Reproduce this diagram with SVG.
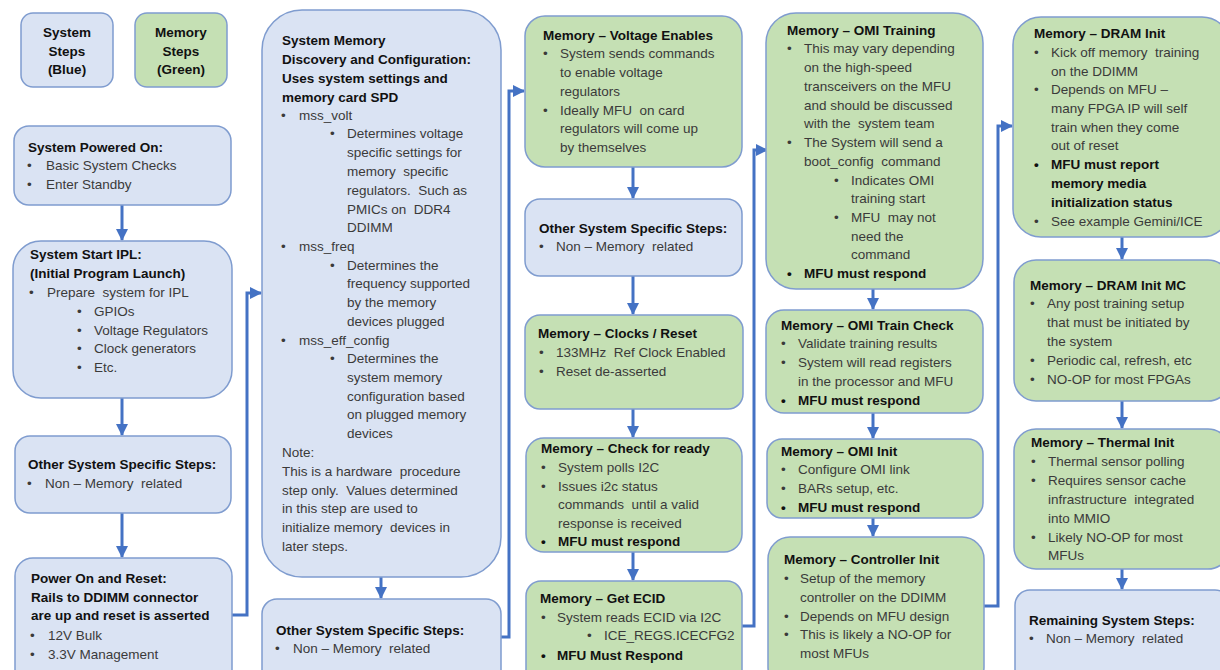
<svg xmlns="http://www.w3.org/2000/svg" width="1220" height="670" viewBox="0 0 1220 670" xml:space="preserve">
<style>
text{font-family:"Liberation Sans",Arial,sans-serif;font-size:13.5px;fill:#3a3a3a;white-space:pre}
.t{font-weight:bold;fill:#111}
.k{font-weight:bold;fill:#111}
.c{text-anchor:middle}
.bl{fill:#dae3f3;stroke:#7f9ccf;stroke-width:1.5}
.gr{fill:#c5e0b4;stroke:#7f9ccf;stroke-width:1.5}
.cn{stroke:#4472c4;stroke-width:3;fill:none}
</style>
<defs>
<marker id="ah" markerUnits="userSpaceOnUse" markerWidth="12" markerHeight="12" viewBox="0 0 12 12" refX="11" refY="6" orient="auto">
<path d="M0,0 L12,6 L0,12 Z" fill="#4472c4"/>
</marker>
</defs>
<rect width="1220" height="670" fill="#ffffff"/>
<g id="connectors">
<line class="cn" x1="122" y1="205" x2="122" y2="240" marker-end="url(#ah)"/>
<line class="cn" x1="122" y1="398" x2="122" y2="435" marker-end="url(#ah)"/>
<line class="cn" x1="122" y1="513" x2="122" y2="557" marker-end="url(#ah)"/>
<polyline class="cn" points="232,615 247,615 247,293 261,293" marker-end="url(#ah)"/>
<line class="cn" x1="381" y1="577" x2="381" y2="598" marker-end="url(#ah)"/>
<polyline class="cn" points="501,637 509,637 509,91 524,91" marker-end="url(#ah)"/>
<line class="cn" x1="633" y1="167" x2="633" y2="198" marker-end="url(#ah)"/>
<line class="cn" x1="633" y1="276" x2="633" y2="314" marker-end="url(#ah)"/>
<line class="cn" x1="633" y1="409" x2="633" y2="437" marker-end="url(#ah)"/>
<line class="cn" x1="633" y1="552" x2="633" y2="580" marker-end="url(#ah)"/>
<polyline class="cn" points="742,626 754,626 754,150 767,150" marker-end="url(#ah)"/>
<line class="cn" x1="873" y1="289" x2="873" y2="309" marker-end="url(#ah)"/>
<line class="cn" x1="873" y1="413" x2="873" y2="438" marker-end="url(#ah)"/>
<line class="cn" x1="873" y1="518" x2="873" y2="536" marker-end="url(#ah)"/>
<polyline class="cn" points="984,606 998,606 998,126 1012,126" marker-end="url(#ah)"/>
<line class="cn" x1="1122" y1="237" x2="1122" y2="259" marker-end="url(#ah)"/>
<line class="cn" x1="1122" y1="401" x2="1122" y2="428" marker-end="url(#ah)"/>
<line class="cn" x1="1122" y1="569" x2="1122" y2="589" marker-end="url(#ah)"/>
</g>
<g id="legend-system">
<rect class="bl" x="21" y="13" width="92" height="74" rx="12"/>
<text class="t c" x="67" y="37">System</text>
<text class="t c" x="67" y="56">Steps</text>
<text class="t c" x="67" y="74">(Blue)</text>
</g>
<g id="legend-memory">
<rect class="gr" x="135" y="13" width="92" height="74" rx="12"/>
<text class="t c" x="181" y="37">Memory</text>
<text class="t c" x="181" y="56">Steps</text>
<text class="t c" x="181" y="74">(Green)</text>
</g>
<g id="system-powered-on">
<rect class="bl" x="14" y="126" width="217" height="79" rx="15"/>
<text class="t" x="28" y="152">System Powered On:</text>
<text x="27" y="170">•</text><text x="46" y="170">Basic System Checks</text>
<text x="27" y="189">•</text><text x="46" y="189">Enter Standby</text>
</g>
<g id="system-start-ipl">
<rect class="bl" x="13" y="241" width="219" height="157" rx="28"/>
<text class="t" x="30" y="259">System Start IPL:</text>
<text class="t" x="30" y="278">(Initial Program Launch)</text>
<text x="29" y="297">•</text><text x="47" y="297">Prepare  system for IPL</text>
<text x="77" y="316">•</text><text x="94" y="316">GPIOs</text>
<text x="77" y="335">•</text><text x="94" y="335">Voltage Regulators</text>
<text x="77" y="353">•</text><text x="94" y="353">Clock generators</text>
<text x="77" y="372">•</text><text x="94" y="372">Etc.</text>
</g>
<g id="other-system-1">
<rect class="bl" x="15" y="436" width="216" height="77" rx="15"/>
<text class="t" x="28" y="469">Other System Specific Steps:</text>
<text x="27" y="488">•</text><text x="45" y="488">Non – Memory  related</text>
</g>
<g id="power-on-reset">
<rect class="bl" x="15" y="558" width="217" height="130" rx="18"/>
<text class="t" x="31" y="583">Power On and Reset:</text>
<text class="t" x="31" y="602">Rails to DDIMM connector</text>
<text class="t" x="31" y="620">are up and reset is asserted</text>
<text x="30" y="640">•</text><text x="48" y="640">12V Bulk</text>
<text x="30" y="659">•</text><text x="48" y="659">3.3V Management</text>
</g>
<g id="memory-discovery">
<rect class="bl" x="262" y="10" width="239" height="567" rx="40"/>
<text class="t" x="282" y="45">System Memory</text>
<text class="t" x="282" y="64">Discovery and Configuration:</text>
<text class="t" x="282" y="83">Uses system settings and</text>
<text class="t" x="282" y="102">memory card SPD</text>
<text x="281" y="120">•</text><text x="299" y="120">mss_volt</text>
<text x="330" y="138">•</text><text x="347" y="138">Determines voltage</text>
<text x="347" y="157">specific settings for</text>
<text x="347" y="176">memory  specific</text>
<text x="347" y="195">regulators.  Such as</text>
<text x="347" y="214">PMICs on  DDR4</text>
<text x="347" y="232">DDIMM</text>
<text x="281" y="251">•</text><text x="299" y="251">mss_freq</text>
<text x="330" y="270">•</text><text x="347" y="270">Determines the</text>
<text x="347" y="288">frequency supported</text>
<text x="347" y="307">by the memory</text>
<text x="347" y="326">devices plugged</text>
<text x="281" y="345">•</text><text x="299" y="345">mss_eff_config</text>
<text x="330" y="363">•</text><text x="347" y="363">Determines the</text>
<text x="347" y="382">system memory</text>
<text x="347" y="401">configuration based</text>
<text x="347" y="419">on plugged memory</text>
<text x="347" y="438">devices</text>
<text x="282" y="457">Note:</text>
<text x="282" y="476">This is a hardware  procedure</text>
<text x="282" y="495">step only.  Values determined</text>
<text x="282" y="513">in this step are used to</text>
<text x="282" y="532">initialize memory  devices in</text>
<text x="282" y="551">later steps.</text>
</g>
<g id="other-system-2">
<rect class="bl" x="262" y="599" width="239" height="90" rx="15"/>
<text class="t" x="276" y="635">Other System Specific Steps:</text>
<text x="275" y="653">•</text><text x="293" y="653">Non – Memory  related</text>
</g>
<g id="voltage-enables">
<rect class="gr" x="525" y="16" width="217" height="151" rx="20"/>
<text class="t" x="543" y="40">Memory – Voltage Enables</text>
<text x="543" y="58">•</text><text x="560" y="58">System sends commands</text>
<text x="560" y="77">to enable voltage</text>
<text x="560" y="96">regulators</text>
<text x="543" y="115">•</text><text x="560" y="115">Ideally MFU  on card</text>
<text x="560" y="133">regulators will come up</text>
<text x="560" y="152">by themselves</text>
</g>
<g id="other-system-3">
<rect class="bl" x="525" y="199" width="217" height="77" rx="15"/>
<text class="t" x="539" y="233">Other System Specific Steps:</text>
<text x="539" y="251">•</text><text x="556" y="251">Non – Memory  related</text>
</g>
<g id="clocks-reset">
<rect class="gr" x="525" y="315" width="218" height="94" rx="15"/>
<text class="t" x="538" y="338">Memory – Clocks / Reset</text>
<text x="539" y="357">•</text><text x="556" y="357">133MHz  Ref Clock Enabled</text>
<text x="539" y="376">•</text><text x="556" y="376">Reset de-asserted</text>
</g>
<g id="check-ready">
<rect class="gr" x="526" y="438" width="216" height="114" rx="18"/>
<text class="t" x="541" y="453">Memory – Check for ready</text>
<text x="541" y="472">•</text><text x="558" y="472">System polls I2C</text>
<text x="541" y="491">•</text><text x="558" y="491">Issues i2c status</text>
<text x="558" y="509">commands  until a valid</text>
<text x="558" y="528">response is received</text>
<text class="k" x="541" y="546">•</text><text class="k" x="558" y="546">MFU must respond</text>
</g>
<g id="get-ecid">
<rect class="gr" x="526" y="581" width="216" height="108" rx="15"/>
<text class="t" x="540" y="603">Memory – Get ECID</text>
<text x="541" y="622">•</text><text x="557" y="622">System reads ECID via I2C</text>
<text x="587" y="640">•</text><text x="604" y="640">ICE_REGS.ICECFG2</text>
<text class="k" x="541" y="660">•</text><text class="k" x="557" y="660">MFU Must Respond</text>
</g>
<g id="omi-training">
<rect class="gr" x="766" y="13" width="217" height="276" rx="30"/>
<text class="t" x="787" y="35">Memory – OMI Training</text>
<text x="787" y="53">•</text><text x="804" y="53">This may vary depending</text>
<text x="804" y="72">on the high-speed</text>
<text x="804" y="91">transceivers on the MFU</text>
<text x="804" y="110">and should be discussed</text>
<text x="804" y="128">with the  system team</text>
<text x="787" y="147">•</text><text x="804" y="147">The System will send a</text>
<text x="804" y="166">boot_config  command</text>
<text x="834" y="185">•</text><text x="851" y="185">Indicates OMI</text>
<text x="851" y="203">training start</text>
<text x="834" y="222">•</text><text x="851" y="222">MFU  may not</text>
<text x="851" y="241">need the</text>
<text x="851" y="259">command</text>
<text class="k" x="787" y="278">•</text><text class="k" x="804" y="278">MFU must respond</text>
</g>
<g id="omi-train-check">
<rect class="gr" x="766" y="310" width="217" height="103" rx="18"/>
<text class="t" x="781" y="330">Memory – OMI Train Check</text>
<text x="781" y="348">•</text><text x="798" y="348">Validate training results</text>
<text x="781" y="367">•</text><text x="798" y="367">System will read registers</text>
<text x="798" y="386">in the processor and MFU</text>
<text class="k" x="781" y="405">•</text><text class="k" x="798" y="405">MFU must respond</text>
</g>
<g id="omi-init">
<rect class="gr" x="767" y="439" width="216" height="79" rx="15"/>
<text class="t" x="781" y="456">Memory – OMI Init</text>
<text x="781" y="474">•</text><text x="798" y="474">Configure OMI link</text>
<text x="781" y="493">•</text><text x="798" y="493">BARs setup, etc.</text>
<text class="k" x="781" y="512">•</text><text class="k" x="798" y="512">MFU must respond</text>
</g>
<g id="controller-init">
<rect class="gr" x="768" y="537" width="216" height="152" rx="22"/>
<text class="t" x="784" y="564">Memory – Controller Init</text>
<text x="784" y="583">•</text><text x="800" y="583">Setup of the memory</text>
<text x="800" y="602">controller on the DDIMM</text>
<text x="784" y="621">•</text><text x="800" y="621">Depends on MFU design</text>
<text x="784" y="639">•</text><text x="800" y="639">This is likely a NO-OP for</text>
<text x="800" y="658">most MFUs</text>
</g>
<g id="dram-init">
<rect class="gr" x="1013" y="17" width="217" height="220" rx="28"/>
<text class="t" x="1034" y="38">Memory – DRAM Init</text>
<text x="1034" y="57">•</text><text x="1051" y="57">Kick off memory  training</text>
<text x="1051" y="76">on the DDIMM</text>
<text x="1034" y="94">•</text><text x="1051" y="94">Depends on MFU –</text>
<text x="1051" y="113">many FPGA IP will self</text>
<text x="1051" y="132">train when they come</text>
<text x="1051" y="150">out of reset</text>
<text class="k" x="1034" y="169">•</text><text class="k" x="1051" y="169">MFU must report</text>
<text class="k" x="1051" y="188">memory media</text>
<text class="k" x="1051" y="207">initialization status</text>
<text x="1034" y="226">•</text><text x="1051" y="226">See example Gemini/ICE</text>
</g>
<g id="dram-init-mc">
<rect class="gr" x="1014" y="260" width="216" height="141" rx="22"/>
<text class="t" x="1030" y="290">Memory – DRAM Init MC</text>
<text x="1030" y="308">•</text><text x="1047" y="308">Any post training setup</text>
<text x="1047" y="327">that must be initiated by</text>
<text x="1047" y="346">the system</text>
<text x="1030" y="365">•</text><text x="1047" y="365">Periodic cal, refresh, etc</text>
<text x="1030" y="384">•</text><text x="1047" y="384">NO-OP for most FPGAs</text>
</g>
<g id="thermal-init">
<rect class="gr" x="1014" y="429" width="216" height="140" rx="22"/>
<text class="t" x="1031" y="447">Memory – Thermal Init</text>
<text x="1031" y="466">•</text><text x="1048" y="466">Thermal sensor polling</text>
<text x="1031" y="485">•</text><text x="1048" y="485">Requires sensor cache</text>
<text x="1048" y="504">infrastructure  integrated</text>
<text x="1048" y="523">into MMIO</text>
<text x="1031" y="542">•</text><text x="1048" y="542">Likely NO-OP for most</text>
<text x="1048" y="560">MFUs</text>
</g>
<g id="remaining-system">
<rect class="bl" x="1015" y="590" width="215" height="99" rx="15"/>
<text class="t" x="1029" y="625">Remaining System Steps:</text>
<text x="1029" y="643">•</text><text x="1046" y="643">Non – Memory  related</text>
</g>
</svg>
